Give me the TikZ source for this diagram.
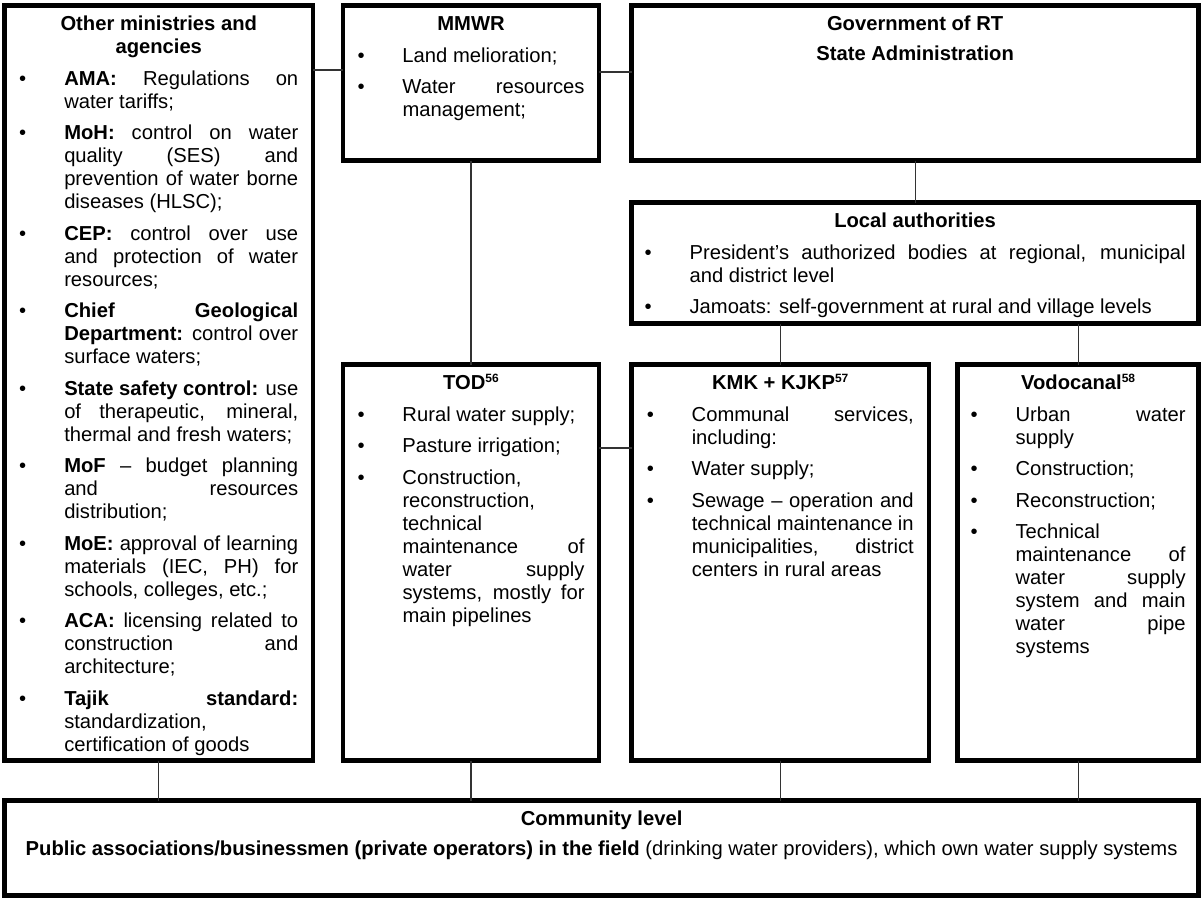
\documentclass[tikz,border=0pt]{standalone}
\usepackage{fontspec}
\setmainfont{Liberation Sans}
\usepackage{tikz}

\newcommand{\itm}[1]{\par\noindent\hangindent=45pt\hangafter=1\makebox[45pt][l]{\textbullet}#1\par}
\newcommand{\unithead}[1]{{\centering\strut\textbf{#1}\par}}
\newcommand{\unittext}[3]{\parbox[c][#2][t]{#1}{\setlength{\parskip}{8.5pt}\tolerance=10000\hbadness=10000\hyphenpenalty=10000 #3}}
\newcommand{\fnum}[1]{\raisebox{7pt}{\fontsize{12}{12}\selectfont #1}}

\begin{document}
\begin{tikzpicture}[x=1pt, y=-1pt,
    unit/.style={draw, line width=4.5pt, inner sep=0pt, outer sep=0pt, anchor=north west, font=\fontsize{20.2}{23}\selectfont},
    link/.style={line width=1.2pt, black!80}]
    \useasboundingbox (0,0) rectangle (1201,900);
    \node[unit, minimum width=308.5, minimum height=755.2] at (4.5,5.3) (other) {\unittext{279pt}{737pt}{%
        \unithead{Other ministries and\\agencies}
        \itm{\textbf{AMA:} Regulations on\linebreak water tariffs;}
        \itm{\textbf{MoH:} control on water\linebreak quality (SES) and\linebreak prevention of water borne\linebreak diseases (HLSC);}
        \itm{\textbf{CEP:} control over use\linebreak and protection of water\linebreak resources;}
        \itm{\textbf{Chief Geological\linebreak Department:} control over\linebreak surface waters;}
        \itm{\textbf{State safety control:} use\linebreak of therapeutic, mineral,\linebreak thermal and fresh waters;}
        \itm{\textbf{MoF} – budget planning\linebreak and resources\linebreak distribution;}
        \itm{\textbf{MoE:} approval of learning\linebreak materials (IEC, PH) for\linebreak schools, colleges, etc.;}
        \itm{\textbf{ACA:} licensing related to\linebreak construction and\linebreak architecture;}
        \itm{\textbf{Tajik standard:}\linebreak standardization,\linebreak certification of goods}}};
    \node[unit, minimum width=256, minimum height=155.2] at (343,5.3) (mmwr) {\unittext{227pt}{137pt}{%
        \unithead{MMWR}
        \itm{Land melioration;}
        \itm{Water resources\linebreak management;}}};
    \node[unit, minimum width=567.2, minimum height=155.2] at (631.5,5.3) (gov) {\unittext{538pt}{137pt}{%
        \unithead{Government of RT}\vspace{-2pt}
        \unithead{State Administration}}};
    \node[unit, minimum width=567.2, minimum height=121] at (631.5,202.5) (local) {\unittext{541pt}{103pt}{%
        \unithead{Local authorities}
        \itm{President's authorized bodies at regional, municipal\linebreak and district level}
        \itm{Jamoats: self-government at rural and village levels}}};
    \node[unit, minimum width=256, minimum height=396] at (343,364.5) (tod) {\unittext{227pt}{378pt}{%
        \unithead{TOD\fnum{56}}
        \itm{Rural water supply;}
        \itm{Pasture irrigation;}
        \itm{Construction,\linebreak reconstruction,\linebreak technical\linebreak maintenance of\linebreak water supply\linebreak systems, mostly for\linebreak main pipelines}}};
    \node[unit, minimum width=297.5, minimum height=396] at (631.5,364.5) (kmk) {\unittext{267pt}{378pt}{%
        \unithead{KMK + KJKP\fnum{57}}
        \itm{Communal services,\linebreak including:}
        \itm{Water supply;}
        \itm{Sewage – operation and\linebreak technical maintenance in\linebreak municipalities, district\linebreak centers in rural areas}}};
    \node[unit, minimum width=241.2, minimum height=396] at (957.5,364.5) (vodo) {\unittext{215pt}{378pt}{%
        \unithead{Vodocanal\fnum{58}}
        \itm{Urban water\linebreak supply}
        \itm{Construction;}
        \itm{Reconstruction;}
        \itm{Technical\linebreak maintenance of\linebreak water supply\linebreak system and main\linebreak water pipe\linebreak systems}}};
    \node[unit, minimum width=1194.2, minimum height=95] at (4.5,800.5) (comm) {\unittext{1166pt}{77pt}{%
        \unithead{Community level}\vspace{-2pt}
        {\centering\textbf{Public associations/businessmen (private operators) in the field} (drinking water providers), which own water supply systems\par}}};
    \draw[link] (other.east |- 0,70) -- (mmwr.west |- 0,70);
    \draw[link] (mmwr.east |- 0,72) -- (gov.west |- 0,72);
    \draw[link] (mmwr.south) -- (tod.north);
    \draw[link] (gov.south) -- (local.north);
    \draw[link] (kmk.north |- local.south) -- (kmk.north);
    \draw[link] (vodo.north |- local.south) -- (vodo.north);
    \draw[link] (tod.east |- 0,448) -- (kmk.west |- 0,448);
    \foreach \n in {other,tod,kmk,vodo}
        \draw[link] (\n.south) -- (\n.south |- comm.north);
\end{tikzpicture}
\end{document}
